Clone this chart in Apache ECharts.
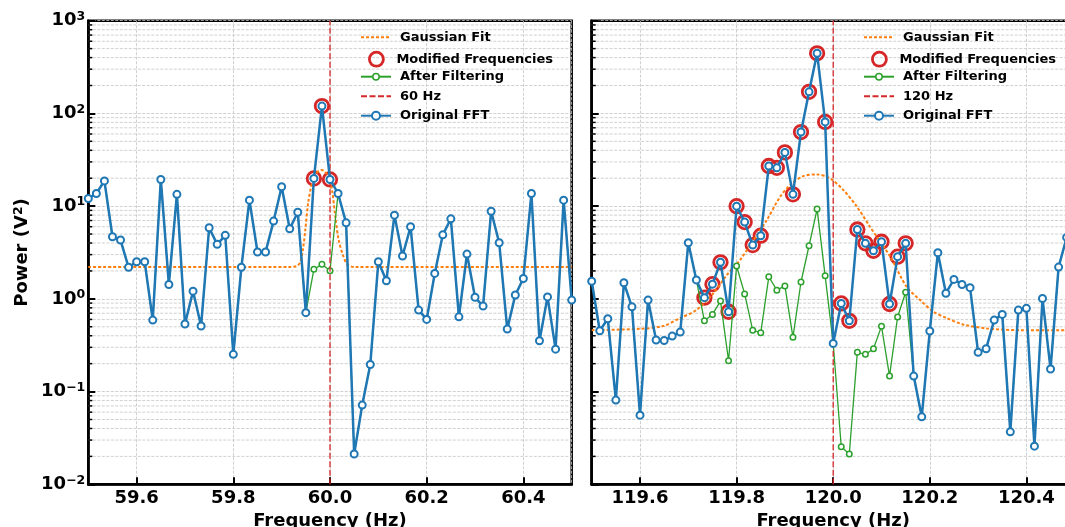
<!DOCTYPE html>
<html><head><meta charset="utf-8">
<script src="https://cdn.jsdelivr.net/npm/echarts@6/dist/echarts.min.js"></script>
<style>html,body{margin:0;padding:0;background:#fff}#c{width:1065px;height:527px}</style>
</head><body><div id="c"></div>
<script>
// ---------------- data ----------------
const binWidth = 1 / 60;               // FFT bin spacing (Hz)
const leftStart = 59.5;
const rightStart = 119.5;
const leftRange = [59.5, 60.5];
const rightRange = [119.5, 120.5];
const yRange = [0.01, 1000];
const leftMarkerFreq = 60;
const rightMarkerFreq = 120;

const leftOriginal = [12.1, 13.7, 18.7, 4.68, 4.31, 2.19, 2.51, 2.51, 0.59, 19.4,
  1.43, 13.4, 0.535, 1.21, 0.51, 5.85, 3.87, 4.84, 0.252, 2.19,
  11.6, 3.2, 3.2, 6.9, 16.2, 5.7, 8.6, 0.71, 19.9, 120,
  19.4, 13.7, 6.6, 0.0212, 0.0715, 0.196, 2.51, 1.57, 8.0, 2.9,
  6.0, 0.757, 0.60, 1.88, 4.9, 7.3, 0.64, 3.04, 1.04, 0.836,
  8.8, 4.03, 0.472, 1.1, 1.66, 13.7, 0.353, 1.05, 0.287, 11.6, 0.97];
const leftFiltered = [12.1, 13.7, 18.7, 4.68, 4.31, 2.19, 2.51, 2.51, 0.59, 19.4,
  1.43, 13.4, 0.535, 1.21, 0.51, 5.85, 3.87, 4.84, 0.252, 2.19,
  11.6, 3.2, 3.2, 6.9, 16.2, 5.7, 8.6, 0.71, 2.08, 2.36,
  2.01, 13.7, 6.6, 0.0212, 0.0715, 0.196, 2.51, 1.57, 8.0, 2.9,
  6.0, 0.757, 0.60, 1.88, 4.9, 7.3, 0.64, 3.04, 1.04, 0.836,
  8.8, 4.03, 0.472, 1.1, 1.66, 13.7, 0.353, 1.05, 0.287, 11.6, 0.97];
const leftModifiedIdx = [28, 29, 30];

const rightOriginal = [1.55, 0.453, 0.61, 0.081, 1.49, 0.82, 0.0557, 0.97, 0.36, 0.355,
  0.397, 0.438, 4.03, 1.6, 1.03, 1.44, 2.48, 0.726, 10.0, 6.73,
  3.8, 4.8, 27.1, 25.9, 38, 13.4, 63, 171, 445, 81,
  0.331, 0.893, 0.58, 5.6, 3.97, 3.3, 4.13, 0.88, 2.85, 3.97,
  0.147, 0.0534, 0.45, 3.14, 1.15, 1.62, 1.43, 1.32, 0.265, 0.29,
  0.59, 0.68, 0.0368, 0.757, 0.79, 0.0258, 1.01, 0.175, 2.2, 4.6, 2.0];
const rightFiltered = [1.55, 0.453, 0.61, 0.081, 1.49, 0.82, 0.0557, 0.97, 0.36, 0.355,
  0.397, 0.438, 4.03, 1.6, 0.58, 0.68, 0.946, 0.215, 2.26, 1.13,
  0.46, 0.43, 1.73, 1.24, 1.38, 0.385, 1.52, 3.74, 9.3, 1.77,
  0.331, 0.0254, 0.0212, 0.265, 0.252, 0.29, 0.505, 0.147, 0.637, 1.18,
  0.147, 0.0534, 0.45, 3.14, 1.15, 1.62, 1.43, 1.32, 0.265, 0.29,
  0.59, 0.68, 0.0368, 0.757, 0.79, 0.0258, 1.01, 0.175, 2.2, 4.6, 2.0];
const rightModifiedIdx = [14, 15, 16, 17, 18, 19, 20, 21, 22, 23, 24, 25, 26, 27, 28, 29,
  31, 32, 33, 34, 35, 36, 37, 38, 39];

const leftGaussFreq = [59.5, 59.915, 59.93, 59.938, 59.944, 59.949, 59.955, 59.962, 59.970, 59.977,
  59.983, 59.990, 59.997, 60.004, 60.011, 60.018, 60.028, 60.036, 60.05, 60.5];
const leftGaussVal = [2.2, 2.2, 2.25, 2.45, 3.4, 5.6, 11, 17, 22, 24,
  24.5, 23.5, 20, 15, 7.7, 4.3, 2.85, 2.35, 2.2, 2.2];
const rightGaussFreq = [119.5, 119.6, 119.648, 119.683, 119.717, 119.752, 119.78, 119.807, 119.835, 119.862,
  119.89, 119.911, 119.938, 119.966, 119.993, 120.021, 120.049, 120.076, 120.09, 120.118,
  120.152, 120.18, 120.207, 120.235, 120.269, 120.318, 120.387, 120.5];
const rightGaussVal = [0.46, 0.475, 0.51, 0.62, 0.76, 1.15, 1.81, 2.62, 4.3, 7.0,
  12.6, 16.9, 21.1, 22.0, 20, 14.9, 9.9, 6.0, 4.7, 2.85,
  1.35, 0.97, 0.73, 0.62, 0.53, 0.48, 0.46, 0.46];

const minorMultipliers = [2, 3, 4, 5, 6, 7, 8, 9];
const decades = [-2, -1, 0, 1, 2];

// ---------------- styling ----------------
const FONT = "'DejaVu Sans', sans-serif";
const C_BLUE = '#1f77b4', C_ORANGE = '#ff7f0e', C_GREEN = '#2ca02c', C_RED = '#d62728';
const GRID_COLOR = '#c4c4c4';

const freqOf = (start, i) => Number((start + i * binWidth).toFixed(6));
const pairs = (start, arr) => arr.map((v, i) => [freqOf(start, i), v]);
const minorVals = [];
decades.forEach(d => minorMultipliers.forEach(m => minorVals.push(Number((m * Math.pow(10, d)).toPrecision(3)))));

const panels = [
  {start: leftStart, range: leftRange, orig: leftOriginal, filt: leftFiltered, mod: leftModifiedIdx,
   gf: leftGaussFreq, gv: leftGaussVal, marker: leftMarkerFreq, markerName: '60 Hz',
   grid: {left: 88.3, top: 20.7, width: 483.4, height: 463.6}, legendLeft: 360, showY: true},
  {start: rightStart, range: rightRange, orig: rightOriginal, filt: rightFiltered, mod: rightModifiedIdx,
   gf: rightGaussFreq, gv: rightGaussVal, marker: rightMarkerFreq, markerName: '120 Hz',
   grid: {left: 591.7, top: 20.7, width: 483, height: 463.6}, legendLeft: 863, showY: false}
];

const grids = [], xAxes = [], yAxes = [], series = [], legends = [];
const legendRows = [38.3, 58.3, 77.7, 97.3, 116.7];

panels.forEach((p, g) => {
  grids.push(Object.assign({show: true, borderColor: '#000', borderWidth: 2.5, backgroundColor: '#fff',
    containLabel: false, outerBoundsMode: 'none'}, p.grid));
  xAxes.push({
    type: 'value', gridIndex: g, min: p.range[0], max: p.range[1], splitNumber: 5,
    axisLine: {onZero: false, lineStyle: {color: '#000', width: 2.5}},
    axisTick: {inside: true, length: 7, lineStyle: {color: '#000', width: 2}},
    axisLabel: {margin: 5, showMinLabel: false, showMaxLabel: false, color: '#000',
      fontFamily: FONT, fontWeight: 'bold', fontSize: 18,
      formatter: v => (Math.abs(v * 5 - Math.round(v * 5)) < 1e-6 ? v.toFixed(1) : '')},
    splitLine: {show: true, lineStyle: {color: GRID_COLOR, width: 0.8, type: [3, 1.5]}},
    name: 'Frequency (Hz)', nameLocation: 'middle', nameGap: 24,
    nameTextStyle: {fontFamily: FONT, fontWeight: 'bold', fontSize: 18, color: '#000'}
  });
  yAxes.push({
    type: 'log', logBase: 10, gridIndex: g, min: yRange[0], max: yRange[1],
    axisLine: {show: true, lineStyle: {color: '#000', width: 2.5}},
    axisTick: {show: true, inside: true, length: 7, lineStyle: {color: '#000', width: 2}},
    axisLabel: {show: p.showY, margin: 3, color: '#000',
      formatter: v => {
        const e = Math.round(Math.log10(v));
        return '{b|10}{e|' + (e < 0 ? '\u2212' + (-e) : e) + '}';
      },
      rich: {
        b: {fontFamily: FONT, fontWeight: 'bold', fontSize: 18, color: '#000', lineHeight: 20},
        e: {fontFamily: FONT, fontWeight: 'bold', fontSize: 12.5, color: '#000', lineHeight: 12, padding: [0, 0, 8, 0]}
      }},
    splitLine: {show: true, lineStyle: {color: GRID_COLOR, width: 0.8, type: [3, 1.5]}},
    name: p.showY ? '{a|Power (V}{s|2}{a|)}' : '', nameLocation: 'middle', nameGap: 56, nameRotate: 90,
    nameTextStyle: {color: '#000', rich: {
      a: {fontFamily: FONT, fontWeight: 'bold', fontSize: 18, color: '#000', lineHeight: 20},
      s: {fontFamily: FONT, fontWeight: 'bold', fontSize: 12.5, color: '#000', lineHeight: 12, padding: [0, 0, 8, 0]}
    }}
  });

  // minor grid lines + minor ticks through the axis scale
  series.push({
    type: 'custom', xAxisIndex: g, yAxisIndex: g, z: 1, silent: true, clip: false,
    data: minorVals.map(v => [p.range[0], v]), encode: {x: 0, y: 1},
    renderItem: (params, api) => {
      const v = api.value(1);
      const a = api.coord([p.range[0], v]);
      const b = api.coord([p.range[1], v]);
      return {type: 'group', children: [
        {type: 'line', shape: {x1: a[0], y1: a[1], x2: b[0], y2: b[1]},
         style: {stroke: GRID_COLOR, lineWidth: 0.8, lineDash: [3, 1.5]}},
        {type: 'line', shape: {x1: a[0], y1: a[1], x2: a[0] + 4, y2: a[1]},
         style: {stroke: '#000', lineWidth: 1.5}}
      ]};
    }
  });

  series.push({
    name: 'Modified Frequencies', type: 'scatter', xAxisIndex: g, yAxisIndex: g, z: 2,
    data: p.mod.map(i => [freqOf(p.start, i), p.orig[i]]),
    symbol: 'circle', symbolSize: 13.5,
    itemStyle: {color: 'rgba(0,0,0,0)', borderColor: C_RED, borderWidth: 2.8, opacity: 1}
  });
  series.push({
    name: 'Gaussian Fit', type: 'line', xAxisIndex: g, yAxisIndex: g, z: 3,
    data: p.gf.map((f, i) => [f, p.gv[i]]), symbol: 'none', smooth: 0.3,
    lineStyle: {color: C_ORANGE, width: 2, type: [3, 2]}, itemStyle: {color: C_ORANGE}
  });
  series.push({
    name: 'After Filtering', type: 'line', xAxisIndex: g, yAxisIndex: g, z: 4,
    data: pairs(p.start, p.filt), symbol: 'circle', symbolSize: 5.5, showSymbol: true, showAllSymbol: true,
    lineStyle: {color: C_GREEN, width: 1.3},
    itemStyle: {color: '#fff', borderColor: C_GREEN, borderWidth: 1.5}
  });
  series.push({
    name: p.markerName, type: 'line', xAxisIndex: g, yAxisIndex: g, z: 5,
    data: [[p.marker, yRange[0]], [p.marker, yRange[1]]], symbol: 'none',
    lineStyle: {color: C_RED, width: 1.3, type: [6, 2.5]}, itemStyle: {color: C_RED}
  });
  series.push({
    name: 'Original FFT', type: 'line', xAxisIndex: g, yAxisIndex: g, z: 6,
    data: pairs(p.start, p.orig), symbol: 'circle', symbolSize: 7, showSymbol: true, showAllSymbol: true,
    lineStyle: {color: C_BLUE, width: 2.5},
    itemStyle: {color: '#fff', borderColor: C_BLUE, borderWidth: 2}
  });

  const spec = [
    {name: 'Gaussian Fit', h: 14, hide: true, dx: 0, tp: 4},
    {name: 'Modified Frequencies', h: 14, dx: 8, tp: 0},
    {name: 'After Filtering', h: 8, bw: 1.5, dx: 0, tp: 4},
    {name: p.markerName, h: 14, hide: true, dx: 0, tp: 4},
    {name: 'Original FFT', h: 10, bw: 2, dx: 0, tp: 4}
  ];
  spec.forEach((s, r) => {
    const item = {name: s.name};
    if (s.hide) item.itemStyle = {opacity: 0};
    else if (s.bw) item.itemStyle = {borderWidth: s.bw};
    else item.itemStyle = {borderWidth: 2.8};
    legends.push({
      show: true, orient: 'horizontal', left: p.legendLeft + s.dx, top: legendRows[r] - 7.5,
      itemWidth: 30, itemHeight: s.h, padding: 0, selectedMode: false, data: [item],
      textStyle: {fontFamily: FONT, fontWeight: 'bold', fontSize: 13, color: '#000', padding: [0, 0, 0, s.tp]}
    });
  });
});

const chart = echarts.init(document.getElementById('c'), null, {renderer: 'canvas'});
chart.setOption({
  animation: false, backgroundColor: '#fff',
  grid: grids, xAxis: xAxes, yAxis: yAxes, series: series, legend: legends
});
</script></body></html>
